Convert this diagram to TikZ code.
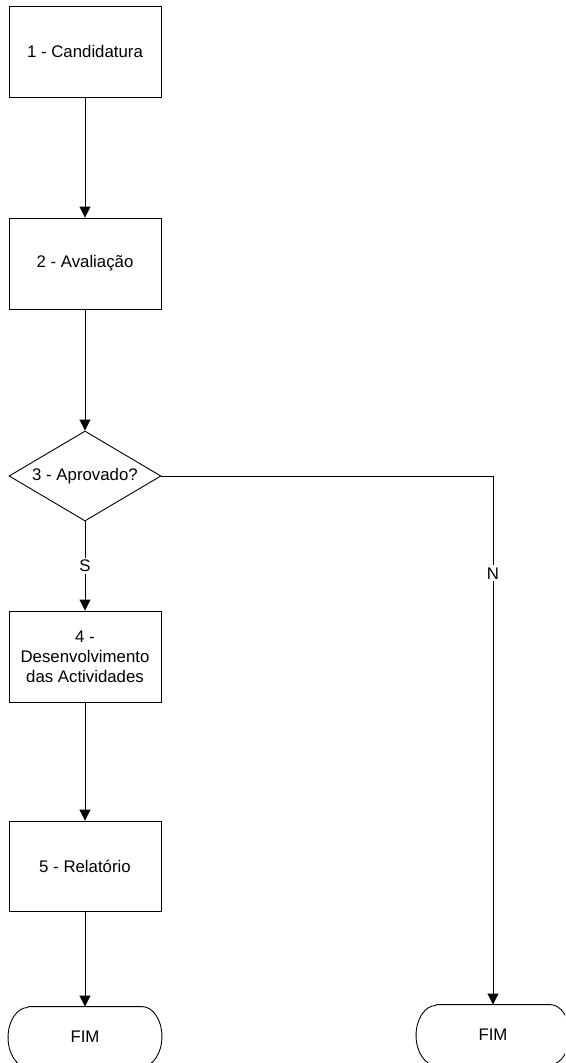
\documentclass[tikz,border=0pt]{standalone}
\usepackage{fontspec}
\setmainfont{Liberation Sans}
\usetikzlibrary{shapes.geometric,arrows.meta}
\tikzset{
  every picture/.style={x=1pt,y=1pt},
  base/.style={font=\fontsize{16.8}{20}\selectfont, line width=0.9pt},
  stepbox/.style={base, draw, rectangle, minimum width=152pt, minimum height=91pt, inner sep=0pt, align=center},
  decision/.style={base, draw, diamond, aspect=1.69, minimum width=152pt, minimum height=90pt, inner sep=0pt},
  terminal/.style={base, rectangle, minimum width=153pt, minimum height=60pt, inner sep=0pt},
  termline/.style={line width=0.9pt},
  arr/.style={line width=0.9pt, -{Triangle[width=11pt,length=11pt]}},
  lbl/.style={base, fill=white, inner sep=2pt}
}
\begin{document}
\begin{tikzpicture}
\useasboundingbox (0,0) rectangle (565,-1063);
\clip (0,0) rectangle (565,-1063);
\node[stepbox] (b1) at (85,-51.5) {1 - Candidatura};
\node[stepbox] (b2) at (85,-263.5) {2 - Avaliação};
\node[decision] (d3) at (85,-476) {3 - Aprovado?};
\node[stepbox] (b4) at (85,-656.5) {4 -\\Desenvolvimento\\das Actividades};
\node[stepbox, minimum height=90pt] (b5) at (85,-866) {5 - Relatório};
\node[terminal] (f1) at (85,-1037) {FIM};
\node[terminal] (f2) at (493,-1035) {FIM};
% terminal outlines
\draw[termline] ([xshift=20pt]f1.north west) -- ([xshift=-20pt]f1.north east)
  arc[start angle=90,end angle=-90,x radius=20pt,y radius=30pt]
  -- ([xshift=20pt]f1.south west)
  arc[start angle=270,end angle=90,x radius=20pt,y radius=30pt];
\draw[termline] ([xshift=20pt]f2.north west) -- ([xshift=-20pt]f2.north east)
  arc[start angle=90,end angle=-90,x radius=20pt,y radius=30pt]
  -- ([xshift=20pt]f2.south west)
  arc[start angle=270,end angle=90,x radius=20pt,y radius=30pt];
% connectors
\draw[arr] (b1) -- (b2);
\draw[arr] (b2) -- (d3);
\draw[arr] (d3.south) -- node[lbl]{S} (b4.north);
\draw[arr] (b4) -- (b5);
\draw[arr] (b5) -- (f1.north);
\draw[arr] (d3.east) -| node[lbl, pos=0.592]{N} (f2.north);
\end{tikzpicture}
\end{document}
